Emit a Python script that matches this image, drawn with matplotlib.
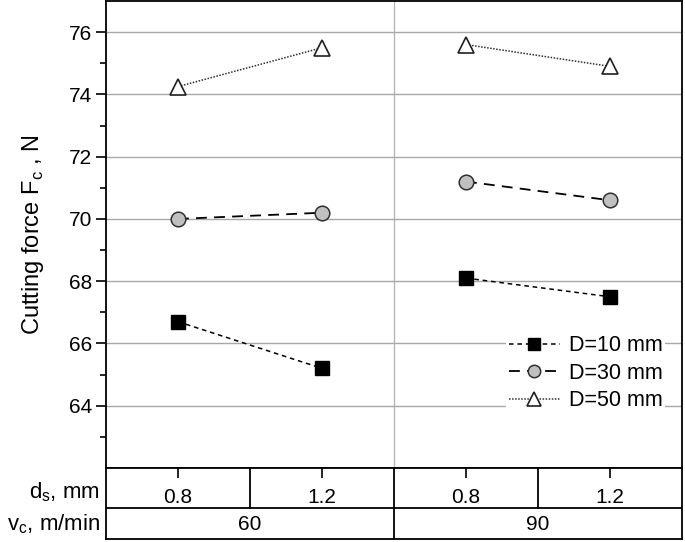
import numpy as np
import matplotlib
matplotlib.use("Agg")
import matplotlib.pyplot as plt

plt.rcParams['font.family'] = ['Liberation Sans', 'DejaVu Sans']
plt.rcParams['mathtext.fontset'] = 'custom'
plt.rcParams['mathtext.rm'] = 'Liberation Sans'

# data
ds_labels = ['0.8', '1.2', '0.8', '1.2']
vc_labels = ['60', '90']
d10 = [66.7, 65.2, 68.1, 67.5]
d30 = [70.0, 70.2, 71.2, 70.6]
d50 = [74.25, 75.5, 75.6, 74.9]

x = np.arange(1, len(ds_labels) + 1)

W, H = 685, 542
fig = plt.figure(figsize=(W / 100, H / 100), dpi=100)

# main plot area (pixels: left 106, right 682, top 1, bottom 468)
left, right = 106 / W, 682 / W
top, bot = 1 - 1 / H, 1 - 468 / H
ax = fig.add_axes([left, bot, right - left, top - bot])

ax.set_xlim(0.5, 4.5)
ax.set_ylim(62, 77)
ax.set_yticks(np.arange(64, 77, 2))
ax.set_yticks(np.arange(63, 77, 2), minor=True)
ax.set_xticks([])
ax.tick_params(axis='y', which='major', direction='out', length=7, width=1.2, labelsize=15, pad=3)
ax.tick_params(axis='y', which='minor', direction='out', length=4, width=1.2)
ax.grid(axis='y', which='major', color='#a8a8a8', lw=1)
ax.axvline(2.5, color='#b8b8b8', lw=1, zorder=0)
for s in ax.spines.values():
    s.set_linewidth(1.3)

styles = [
    (d10, 'D=10 mm', dict(ls=(0, (3, 2.5)), lw=1.1, color='black', marker='s', ms=9.5,
                          mfc='black', mec='black')),
    (d30, 'D=30 mm', dict(ls=(0, (6, 4)), lw=1.3, color='black', marker='o', ms=10.5,
                          mfc='#c0c0c0', mec='#303030', mew=1.1)),
    (d50, 'D=50 mm', dict(ls=(0, (1, 1)), lw=1.1, color='#303030', marker='^', ms=12,
                          mfc='white', mec='#202020', mew=1.2)),
]
# each cutting speed is a separate pair of points
for vals, lab, kw in styles:
    ax.plot(x[:2], vals[:2], label=lab, **kw)
    ax.plot(x[2:], vals[2:], **kw)

ax.set_ylabel('Cutting force F$_\\mathregular{c}$ , N', fontsize=17)
ax.yaxis.set_label_coords(-0.105, 0.5)

leg = ax.legend(loc='center right', bbox_to_anchor=(0.97, 0.203), fontsize=15.5,
                frameon=True, facecolor='white', edgecolor='none', framealpha=1,
                fancybox=False, borderpad=0.1, handlelength=2.4, handletextpad=0.4,
                labelspacing=0.3, borderaxespad=0, markerscale=0.85)

# table of factor levels under the plot
tb_top, tb_bot = 1 - 468 / H, 1 - 539 / H
tab = fig.add_axes([left, tb_bot, right - left, tb_top - tb_bot])
tab.set_xlim(0.5, 4.5)
tab.set_ylim(0, 1)
tab.set_yticks([])
tab.xaxis.tick_top()
tab.set_xticks(x)
tab.tick_params(axis='x', direction='in', length=7, width=1.2, labeltop=False)
for s in tab.spines.values():
    s.set_linewidth(1.3)
mid = 0.435
tab.axhline(mid, color='black', lw=1.3)
tab.axvline(2.5, color='black', lw=1.3)
tab.axvline(1.5, ymin=mid, ymax=1, color='black', lw=1.3)
tab.axvline(3.5, ymin=mid, ymax=1, color='black', lw=1.3)

for xi, lab in zip(x, ds_labels):
    tab.text(xi, 0.59, lab, ha='center', va='center', fontsize=15)
for xi, lab in zip([1.5, 3.5], vc_labels):
    tab.text(xi, 0.21, lab, ha='center', va='center', fontsize=15)

tab.text(-0.011, 0.66, 'd$_\\mathregular{s}$, mm', transform=tab.transAxes,
         ha='right', va='center', fontsize=16)
tab.text(-0.011, 0.21, 'v$_\\mathregular{c}$, m/min', transform=tab.transAxes,
         ha='right', va='center', fontsize=16)

fig.savefig('out.png', dpi=100)
